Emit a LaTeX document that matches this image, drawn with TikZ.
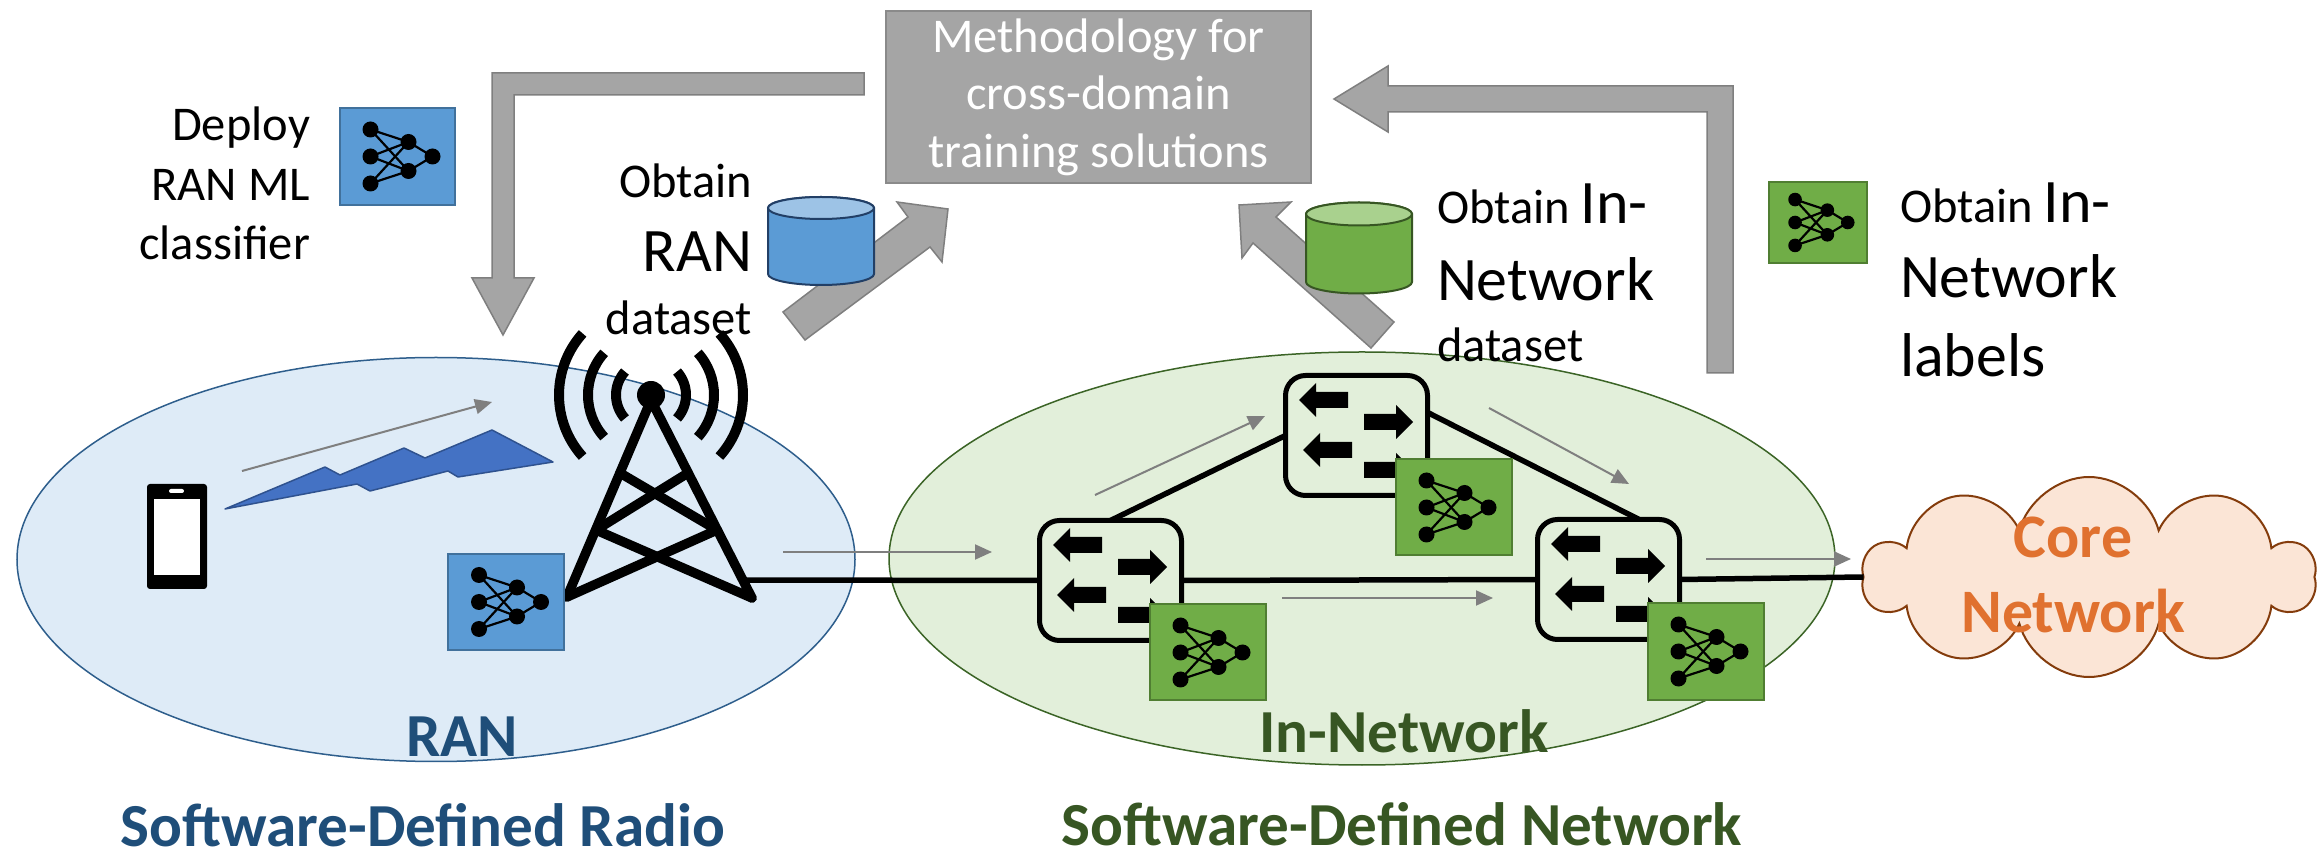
\documentclass[tikz,border=0pt]{standalone}
\usepackage{fontspec}
\setmainfont{Carlito}
\usetikzlibrary{arrows.meta,calc,shapes.symbols,shapes.geometric}

\definecolor{ranfill}{HTML}{DEEBF7}
\definecolor{ranline}{HTML}{2E5E8C}
\definecolor{ranblue}{HTML}{1F4E79}
\definecolor{innfill}{HTML}{E2EFDA}
\definecolor{innline}{HTML}{3B6426}
\definecolor{inngreen}{HTML}{375623}
\definecolor{mlblue}{HTML}{5B9BD5}
\definecolor{mlblueline}{HTML}{41719C}
\definecolor{mlgreen}{HTML}{70AD47}
\definecolor{mlgreenline}{HTML}{507E32}
\definecolor{dbtop}{HTML}{9DC3E6}
\definecolor{dbline}{HTML}{223F66}
\definecolor{dbgtop}{HTML}{A9D18E}
\definecolor{dbgline}{HTML}{375623}
\definecolor{boxgray}{HTML}{A5A5A5}
\definecolor{boxline}{HTML}{8A8A8A}
\definecolor{flowgray}{HTML}{7F7F7F}
\definecolor{boltfill}{HTML}{4472C4}
\definecolor{boltline}{HTML}{2F528F}
\definecolor{corefill}{HTML}{FBE5D6}
\definecolor{coreline}{HTML}{843C0C}
\definecolor{coretext}{HTML}{E0712F}

\newcommand{\bigsz}{\fontsize{17.6}{21}\selectfont}

\begin{document}
\begin{tikzpicture}[
    every node/.style={inner sep=0pt, outer sep=0pt},
    txt/.style={font=\fontsize{13.8}{17}\selectfont},
    lblran/.style={font=\fontsize{17.4}{21}\selectfont\bfseries, text=ranblue},
    lblinn/.style={font=\fontsize{17.4}{21}\selectfont\bfseries, text=inngreen},
    zone/.style={ellipse, line width=0.015cm},
    nnbox/.style={minimum width=1.16cm, minimum height=0.96cm, line width=0.02cm},
    nnblue/.style={nnbox, draw=mlblueline, fill=mlblue},
    nngreen/.style={nnbox, draw=mlgreenline, fill=mlgreen},
    switchbox/.style={draw, line width=0.05cm, rounded corners=0.2cm, fill=innfill,
                minimum width=1.42cm, minimum height=1.2cm},
    link/.style={line width=0.055cm},
    flow/.style={-{Triangle[length=0.17cm, width=0.15cm]}, draw=flowgray, line width=0.02cm},
    blockarr/.style={fill=boxgray, draw=flowgray, line width=0.015cm},
    mast/.style={line width=0.095cm, line cap=round, line join=round},
    wave/.style={line width=0.1cm},
    nnet/.pic={
      \foreach \a in {0.27,0,-0.27} \foreach \b in {0.145,-0.145}
        \draw[line width=0.022cm] (-0.27,\a) -- (0.11,\b);
      \foreach \b in {0.145,-0.145}
        \draw[line width=0.022cm] (0.11,\b) -- (0.35,0);
      \foreach \a in {0.27,0,-0.27} \fill (-0.27,\a) circle (0.08);
      \foreach \b in {0.145,-0.145} \fill (0.11,\b) circle (0.08);
      \fill (0.35,0) circle (0.08);
    },
    portarrow/.pic={
      \fill (-0.245,-0.08) -- (0.075,-0.08) -- (0.075,-0.17) -- (0.245,0)
        -- (0.075,0.17) -- (0.075,0.08) -- (-0.245,0.08) -- cycle;
    },
    fwdtable/.pic={
      \pic[rotate=180] at (-0.33,0.355) {portarrow};
      \pic at (0.32,0.135) {portarrow};
      \pic[rotate=180] at (-0.29,-0.145) {portarrow};
      \pic at (0.32,-0.345) {portarrow};
    },
  ]
  \useasboundingbox (0,0) rectangle (23.23,8.57);

  % === Domains ===
  \node[zone, draw=ranline, fill=ranfill, minimum width=8.38cm, minimum height=4.04cm] (ran) at (4.36,2.975) {};
  \node[zone, draw=innline, fill=innfill, minimum width=9.46cm, minimum height=4.13cm] (inn) at (13.62,2.985) {};
  \node[cloud, cloud puffs=10, cloud ignores aspect, draw=coreline, fill=corefill, line width=0.02cm,
        minimum width=4.52cm, minimum height=2.0cm] (core) at (20.89,2.80) {};
  \node[font=\fontsize{17.6}{21.6}\selectfont\bfseries, text=coretext, align=center, anchor=base] (coretxt)
        at (20.73,2.24) {Core\\Network};

  % === Methodology box and block arrows ===
  \node[fill=boxgray, draw=boxline, line width=0.015cm, minimum width=4.25cm, minimum height=1.72cm,
        font=\fontsize{13.8}{16.4}\selectfont, text=white, align=center] (method) at (10.985,7.60)
        {Methodology for\\cross-domain\\training solutions};

  \draw[blockarr] (8.64,7.84) -- (4.92,7.84) -- (4.92,5.79) -- (4.72,5.79) -- (5.03,5.22)
     -- (5.34,5.79) -- (5.14,5.79) -- (5.14,7.62) -- (8.64,7.62) -- cycle;
  \draw[blockarr] (17.07,4.84) -- (17.07,7.45) -- (13.88,7.45) -- (13.88,7.25) -- (13.34,7.58)
     -- (13.88,7.91) -- (13.88,7.71) -- (17.33,7.71) -- (17.33,4.84) -- cycle;
  \draw[blockarr] (7.83,5.45) -- (9.08,6.40) -- (8.97,6.55) -- (9.48,6.48) -- (9.42,5.95)
     -- (9.30,6.10) -- (8.05,5.17) -- cycle;
  \draw[blockarr] (12.39,6.52) -- (12.91,6.55) -- (12.76,6.40) -- (13.94,5.35) -- (13.71,5.09)
     -- (12.53,6.14) -- (12.42,5.99) -- cycle;

  % === Datasets ===
  \begin{scope}[shift={(8.21,5.83)}]
    \filldraw[fill=mlblue, draw=dbline, line width=0.02cm] (-0.53,0.66) -- (-0.53,0)
      arc[start angle=180, end angle=360, x radius=0.53, y radius=0.11] -- (0.53,0.66)
      arc[start angle=0, end angle=180, x radius=0.53, y radius=0.11] -- cycle;
    \filldraw[fill=dbtop, draw=dbline, line width=0.02cm] (0,0.66) ellipse[x radius=0.53, y radius=0.11];
  \end{scope}
  \begin{scope}[shift={(13.59,5.75)}]
    \filldraw[fill=mlgreen, draw=dbgline, line width=0.02cm] (-0.53,0.68) -- (-0.53,0)
      arc[start angle=180, end angle=360, x radius=0.53, y radius=0.115] -- (0.53,0.68)
      arc[start angle=0, end angle=180, x radius=0.53, y radius=0.115] -- cycle;
    \filldraw[fill=dbgtop, draw=dbgline, line width=0.02cm] (0,0.68) ellipse[x radius=0.53, y radius=0.115];
  \end{scope}

  % === RAN: phone, radio link, tower ===
  \node[fill=black, rounded corners=0.03cm, minimum width=0.60cm, minimum height=1.05cm] (phone) at (1.77,3.205) {};
  \node[fill=white, minimum width=0.46cm, minimum height=0.76cm] (screen) at (1.77,3.20) {};
  \node[fill=white, rounded corners=0.02cm, minimum width=0.15cm, minimum height=0.04cm] (speaker) at (1.765,3.66) {};

  \filldraw[fill=boltfill, draw=boltline, line width=0.015cm, line join=round]
    (2.25,3.48) -- (3.25,3.90) -- (3.40,3.82) -- (4.04,4.09) -- (4.25,3.99) -- (4.92,4.27)
    -- (5.53,3.95) -- (4.58,3.80) -- (4.48,3.86) -- (3.70,3.66) -- (3.57,3.73) -- cycle;

  \draw[mast] (5.67,2.60) -- (6.51,4.57) -- (7.52,2.59);
  \draw[mast] (6.20,3.84) -- (7.17,3.27) -- (5.67,2.60);
  \draw[mast] (6.88,3.84) -- (5.96,3.27) -- (7.52,2.59);
  \node[circle, fill=black, minimum size=0.28cm] (mast) at (6.51,4.62) {};
  \foreach \r in {0.35,0.63,0.92} {
    \draw[wave] ($(mast)+(42:\r)$) arc[start angle=42, end angle=-42, radius=\r];
    \draw[wave] ($(mast)+(138:\r)$) arc[start angle=138, end angle=222, radius=\r];
  }

  \node[nnblue] (mlran) at (5.06,2.55) {};
  \pic at (mlran) {nnet};

  % === In-Network switches ===
  \node[switchbox] (s1) at (11.105,2.765) {};
  \node[switchbox] (s2) at (13.565,4.215) {};
  \node[switchbox] (s3) at (16.085,2.775) {};

  \coordinate (mastfoot) at (7.43,2.77);
  \draw[link] (mastfoot) -- (s1.west);
  \draw[link] (s1.east) -- (s3.west);
  \draw[link] (s3.east) -- (core.west);
  \draw[link] (s1.north) -- (s2.west);
  \draw[link] (s2.18) -- (s3.63);

  \foreach \s in {s1,s2,s3} \pic at (\s) {fwdtable};

  \node[nngreen] (ml1) at ($(s1)+(0.97,-0.72)$) {};
  \node[nngreen] (ml2) at ($(s2)+(0.97,-0.72)$) {};
  \node[nngreen] (ml3) at ($(s3)+(0.97,-0.72)$) {};
  \foreach \m in {ml1,ml2,ml3} \pic at (\m) {nnet};

  % === Traffic direction ===
  \coordinate (ue0) at (2.42,3.86);   \coordinate (ue1) at (4.92,4.55);
  \coordinate (bh0) at (7.83,3.05);   \coordinate (bh1) at (9.92,3.05);
  \coordinate (up0) at (10.95,3.62);  \coordinate (up1) at (12.65,4.41);
  \coordinate (dn0) at (14.89,4.49);  \coordinate (dn1) at (16.29,3.73);
  \coordinate (md0) at (12.82,2.59);  \coordinate (md1) at (14.93,2.59);
  \coordinate (ex0) at (17.06,2.98);  \coordinate (ex1) at (18.51,2.98);
  \foreach \f in {ue,bh,up,dn,md,ex} \draw[flow] (\f0) -- (\f1);

  % === Side notes ===
  \node[nnblue, minimum width=1.15cm, minimum height=0.97cm] (mldeploy) at (3.975,7.005) {};
  \pic at (mldeploy) {nnet};
  \node[txt, anchor=base east, align=right] (deploytxt) at (3.10,5.97) {Deploy\\RAN ML\\classifier};

  \node[txt, anchor=base east, align=right] (ranset) at (7.52,5.22) {Obtain\\[4pt]{\bigsz RAN}\\[1pt]dataset};
  \node[txt, anchor=base west, align=left] (innset) at (14.37,4.95)
        {Obtain {\bigsz In-}\\[4.9pt]{\bigsz Network}\\[0.6pt]dataset};

  \node[nngreen, minimum width=0.98cm, minimum height=0.81cm] (mllabel) at (18.18,6.345) {};
  \pic[scale=0.85] at (mllabel) {nnet};
  \node[txt, anchor=base west, align=left] (innlabel) at (19.00,4.80)
        {Obtain {\bigsz In-}\\[4.6pt]{\bigsz Network}\\[5.5pt]{\bigsz labels}};

  % === Domain names ===
  \node[lblran, anchor=base] (rantxt) at (4.62,1.00) {RAN};
  \node[lblran, anchor=base] (sdrtxt) at (4.23,0.10) {Software-Defined Radio};
  \node[lblinn, anchor=base] (inntxt) at (14.04,1.05) {In-Network};
  \node[lblinn, anchor=base] (sdntxt) at (14.02,0.12) {Software-Defined Network};
\end{tikzpicture}
\end{document}
